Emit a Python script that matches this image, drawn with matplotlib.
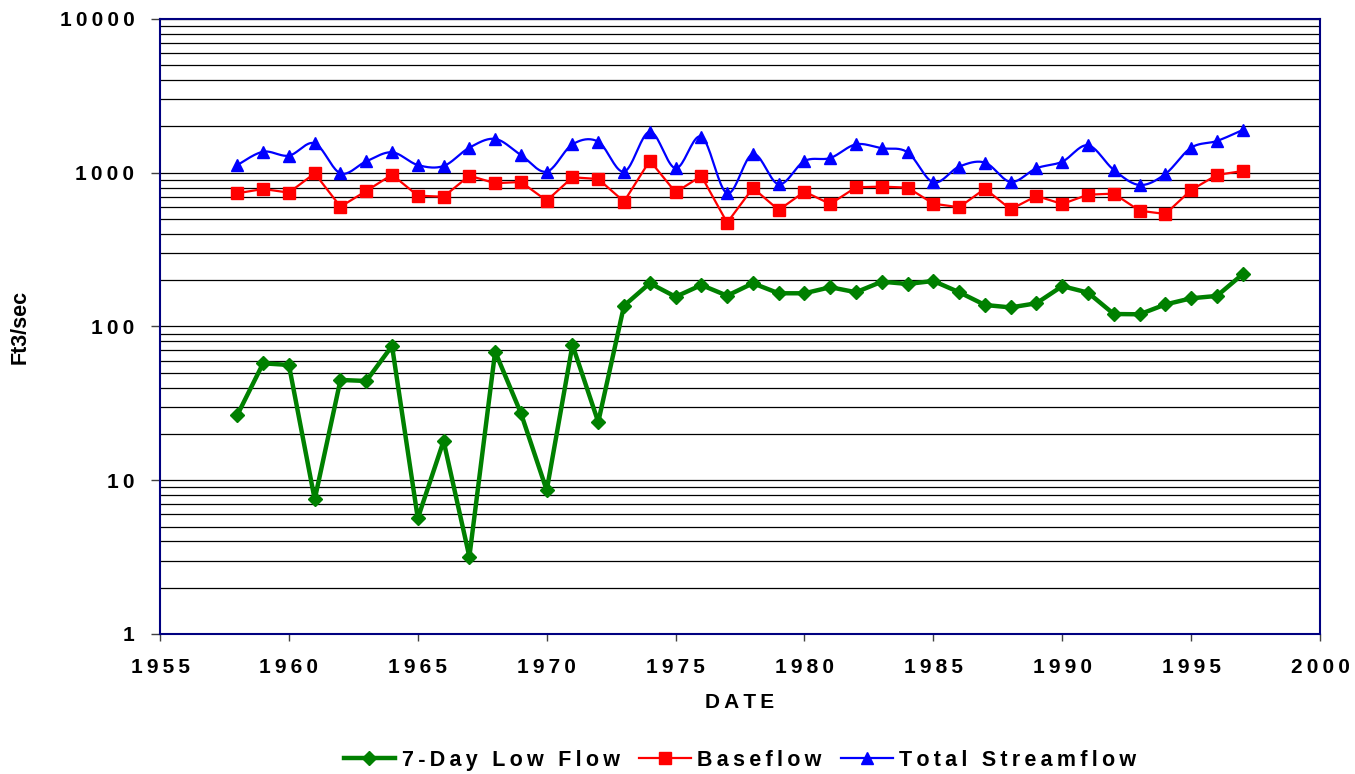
#!/usr/bin/env python3
# pip install matplotlib numpy

import matplotlib.pyplot as plt
import numpy as np
from matplotlib.lines import Line2D
from matplotlib.ticker import FixedLocator, FuncFormatter, LogLocator, NullFormatter

plt.rcParams['font.family'] = ['Liberation Sans', 'DejaVu Sans']
plt.rcParams['font.weight'] = 'bold'

# Years 1958..1997
YEARS = list(range(1958, 1998))

LOW_FLOW = [26.6, 57.6, 56.2, 7.5, 44.9, 44.2, 74.7, 5.65, 18.0, 3.18,
            68.6, 27.3, 8.6, 75.8, 23.9, 136.5, 191, 156, 186, 158.6,
            191, 164.4, 164.4, 180, 167, 195.6, 189, 197.7, 167, 138,
            133, 141.6, 183, 166, 120.5, 120, 139, 152.5, 158, 219]

BASEFLOW = [735, 784, 742, 991, 601, 761, 971, 709, 698, 957,
            854, 871, 658, 934, 910, 649, 1199, 746, 952, 473,
            796, 572, 753, 626, 804, 812, 800, 629, 596, 787,
            578, 706, 626, 720, 731, 566, 539, 772, 967, 1026]

TOTAL = [1122, 1370, 1291, 1553, 991, 1186, 1358, 1122, 1106, 1455,
         1659, 1303, 1016, 1530, 1592, 1016, 1849, 1069, 1717, 735,
         1324, 841, 1192, 1247, 1530, 1442, 1358, 866, 1096, 1164,
         871, 1069, 1180, 1508, 1042, 832, 982, 1455, 1609, 1897]

LABELS = ["7-Day Low Flow", "Baseflow", "Total Streamflow"]

THIN = "\u2009"


def spaced(s):
    # Excel-style letter spacing
    return THIN.join(s)


def smooth(x, y, n=20):
    """Excel-like smoothed line (Catmull-Rom) in x / log10(y) space."""
    x = np.asarray(x, float)
    ly = np.log10(np.asarray(y, float))
    px = np.concatenate([[x[0]], x, [x[-1]]])
    py = np.concatenate([[ly[0]], ly, [ly[-1]]])
    xs, ys = [], []
    t = np.linspace(0, 1, n, endpoint=False)
    for i in range(1, len(px) - 2):
        p0, p1, p2, p3 = px[i - 1], px[i], px[i + 1], px[i + 2]
        q0, q1, q2, q3 = py[i - 1], py[i], py[i + 1], py[i + 2]
        c1x, c1y = p1 + (p2 - p0) / 6, q1 + (q2 - q0) / 6
        c2x, c2y = p2 - (p3 - p1) / 6, q2 - (q3 - q1) / 6
        b = [(1 - t) ** 3, 3 * (1 - t) ** 2 * t, 3 * (1 - t) * t ** 2, t ** 3]
        xs.append(b[0] * p1 + b[1] * c1x + b[2] * c2x + b[3] * p2)
        ys.append(b[0] * q1 + b[1] * c1y + b[2] * c2y + b[3] * q2)
    xs.append([x[-1]])
    ys.append([ly[-1]])
    return np.concatenate(xs), 10 ** np.concatenate(ys)


fig = plt.figure(figsize=(13.55, 7.74), dpi=100)
ax = fig.add_axes([0.1181, 0.1809, 0.8561, 0.7946])

ax.set_yscale('log')
ax.set_ylim(1, 10000)
ax.set_xlim(1955, 2000)

# gridlines at every log step
ax.yaxis.set_major_locator(FixedLocator([1, 10, 100, 1000, 10000]))
ax.yaxis.set_minor_locator(LogLocator(base=10, subs=np.arange(2, 10)))
ax.yaxis.set_minor_formatter(NullFormatter())
ax.grid(True, which='both', axis='y', color='black', linewidth=0.9)
ax.set_axisbelow(True)

green = '#008000'
red = '#FF0000'
blue = '#0000FF'

ax.plot(YEARS, LOW_FLOW, color=green, linewidth=3.2, marker='D',
        markersize=7, zorder=3)
ax.plot(YEARS, BASEFLOW, color=red, linewidth=1.6, marker='s',
        markersize=8, zorder=4, linestyle='-')
sx, sy = smooth(YEARS, TOTAL)
ax.plot(sx, sy, color=blue, linewidth=1.6, zorder=5)
ax.plot(YEARS, TOTAL, color=blue, linestyle='none', marker='^',
        markersize=8.5, zorder=5)

for sp in ax.spines.values():
    sp.set_color('#000080')
    sp.set_linewidth(1.5)

ax.set_xticks(np.arange(1955, 2001, 5))
ax.xaxis.set_major_formatter(FuncFormatter(lambda v, p: spaced(f"{int(round(v))}")))
ax.yaxis.set_major_formatter(FuncFormatter(lambda v, p: spaced(f"{int(round(v))}")))
ax.tick_params(axis='both', which='major', labelsize=15,
               width=1, color='#404040', direction='out')
ax.tick_params(axis='x', length=5, pad=12)
ax.tick_params(axis='y', which='major', length=6.5, pad=12)
ax.tick_params(axis='y', which='minor', length=0)

ax.set_xlabel(spaced("DATE"), fontsize=15, fontweight='bold', labelpad=12)
ax.set_ylabel("Ft3/sec", fontsize=15.5, fontweight='bold', labelpad=21)

handles = [
    Line2D([], [], color=green, linewidth=3.2, marker='D', markersize=7),
    Line2D([], [], color=red, linewidth=1.6, marker='s', markersize=8),
    Line2D([], [], color=blue, linewidth=1.6, marker='^', markersize=8.5),
]
fig.legend(handles, [spaced(s) for s in LABELS], loc='center',
           bbox_to_anchor=(0.546, 0.018), ncol=3, frameon=False,
           fontsize=15.5, handlelength=2.4, handletextpad=0.3, columnspacing=0.9)

plt.savefig("out.png", dpi=100)
plt.close()
